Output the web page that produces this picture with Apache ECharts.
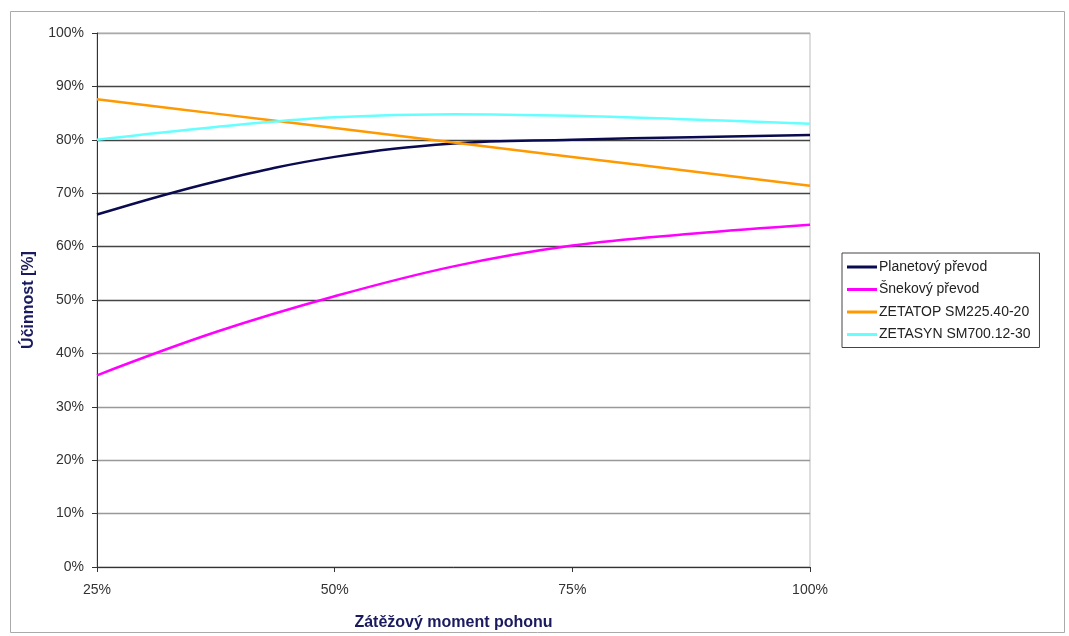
<!DOCTYPE html>
<html>
<head>
<meta charset="utf-8">
<script src="https://cdn.jsdelivr.net/npm/echarts@6/dist/echarts.min.js"></script>
<style>
html,body{margin:0;padding:0;background:#fff;}
#c{width:1069px;height:636px;}
</style>
</head>
<body>
<div id="c"></div>
<script>
const loadPct = [25, 37.5, 50, 62.5, 75, 87.5, 100];
const planetovy = [66.0, 72.2, 76.8, 79.3, 80.0, 80.5, 80.9];
const snekovy = [35.9, 44.0, 50.7, 56.3, 60.2, 62.4, 64.1];
const zetatop = [87.6, 84.9, 82.2, 79.5, 76.8, 74.1, 71.4];
const zetasyn = [80.0, 82.4, 84.2, 84.8, 84.5, 83.8, 83.0];
const seriesNames = ['Planetový převod', 'Šnekový převod', 'ZETATOP SM225.40-20', 'ZETASYN SM700.12-30'];
const seriesColors = ['#0a0a50', '#ff00ff', '#ff9900', '#66ffff'];
const seriesData = [planetovy, snekovy, zetatop, zetasyn];

const chart = echarts.init(document.getElementById('c'));
const font = 'Liberation Sans, Arial, sans-serif';
chart.setOption({
  backgroundColor: '#fff',
  animation: false,
  graphic: [{
    type: 'rect', left: 8, top: 9,
    shape: { width: 1054, height: 621 },
    style: { fill: 'none', stroke: '#aaa', lineWidth: 1 },
    silent: true
  }],
  grid: { left: 97, right: 259, top: 33, bottom: 68, show: true, borderColor: '#bbb', borderWidth: 1 },
  legend: {
    orient: 'vertical', left: 842, top: 253,
    padding: [7, 9, 6, 5],
    itemGap: 8.5,
    itemWidth: 30, itemHeight: 3,
    icon: 'rect',
    borderColor: '#444', borderWidth: 1,
    backgroundColor: '#fff',
    textStyle: { fontFamily: font, fontSize: 14, color: '#222', padding: [0, 0, 0, -3] },
    data: seriesNames
  },
  xAxis: {
    type: 'value', min: 25, max: 100, interval: 25,
    name: 'Zátěžový moment pohonu', nameLocation: 'middle', nameGap: 48,
    nameTextStyle: { fontFamily: font, fontSize: 16, fontWeight: 'bold', color: '#1a1a5e', verticalAlign: 'top' },
    axisLine: { show: true, lineStyle: { color: '#333', width: 1 } },
    axisTick: { show: true, length: 5, lineStyle: { color: '#333' } },
    axisLabel: { formatter: '{value}%', fontFamily: font, fontSize: 14, color: '#333', margin: 16 },
    splitLine: { show: false }
  },
  yAxis: {
    type: 'value', min: 0, max: 100, interval: 10,
    name: 'Účinnost [%]', nameLocation: 'middle', nameGap: 60, nameRotate: 90,
    nameTextStyle: { fontFamily: font, fontSize: 16, fontWeight: 'bold', color: '#1a1a5e' },
    axisLine: { show: true, onZero: false, lineStyle: { color: '#333', width: 1 } },
    axisTick: { show: true, length: 5, lineStyle: { color: '#333' } },
    axisLabel: { formatter: '{value}%', fontFamily: font, fontSize: 14, color: '#333', margin: 13 },
    splitLine: { show: true, lineStyle: { color: ['#888', '#999', '#999', '#999', '#999', '#444', '#444', '#444', '#444', '#444', '#aaa'], width: 1.3 } }
  },
  series: seriesNames.map((n, i) => ({
    name: n, type: 'line', smooth: 0.4, showSymbol: false,
    color: seriesColors[i],
    lineStyle: { color: seriesColors[i], width: 2.5 },
    data: loadPct.map((x, j) => [x, seriesData[i][j]])
  }))
});
</script>
</body>
</html>
